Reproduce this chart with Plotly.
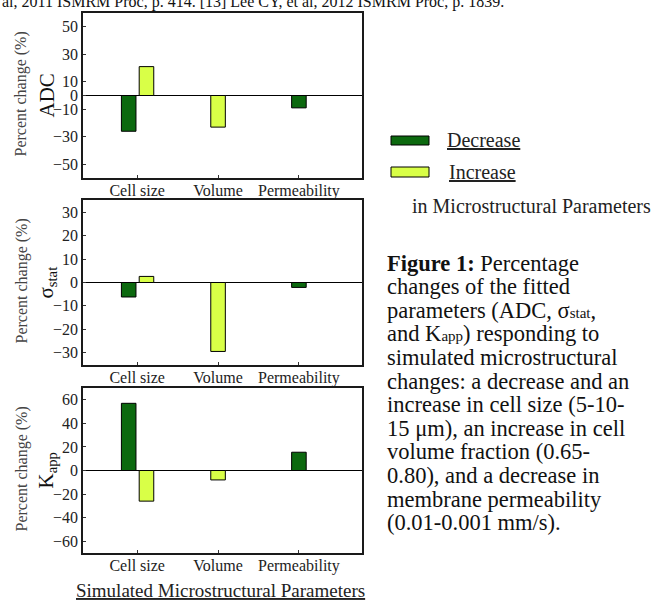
import plotly.graph_objects as go

# ---------------- data ----------------
categories = ["Cell size", "Volume", "Permeability"]

adc_decrease = [-26, None, -9]
adc_increase = [21, -23, None]

sigma_decrease = [-6.2, None, -2.1]
sigma_increase = [2.6, -29.5, None]

kapp_decrease = [57, None, 15.5]
kapp_increase = [-26, -8, None]

adc_ticks = [-50, -30, -10, 0, 10, 30, 50]
sigma_ticks = [-30, -20, -10, 0, 10, 20, 30]
kapp_ticks = [-60, -40, -20, 0, 20, 40, 60]

series_names = ["Decrease", "Increase"]

# ---------------- styling ----------------
W, H = 652, 600
FONT = "Liberation Serif"
DARK = "#0c690f"
LIGHT = "#d9ff47"


def px_x(p):
    return p / W


def px_y(p):
    return 1 - p / H


def note(text, x, y, size, color="#111", xanchor="center", yanchor="middle", angle=0):
    fig.add_annotation(x=px_x(x), y=px_y(y), xref="paper", yref="paper",
                       xanchor=xanchor, yanchor=yanchor, text=text, textangle=angle,
                       showarrow=False, font=dict(family=FONT, size=size, color=color))


fig = go.Figure()

panels = [
    (adc_decrease, adc_increase, adc_ticks, [-60, 60], (13, 178), "ADC"),
    (sigma_decrease, sigma_increase, sigma_ticks, [-35.3, 35.3], (200, 365), "σ<sub>stat</sub>"),
    (kapp_decrease, kapp_increase, kapp_ticks, [-70, 70], (388, 553), "K<sub>app</sub>"),
]

BW = 0.18
for i, (dec, inc, ticks, yr, (top, bot), label) in enumerate(panels):
    n = i + 1
    xa = "x" if n == 1 else f"x{n}"
    ya = "y" if n == 1 else f"y{n}"
    both = [(d is not None and v is not None) for d, v in zip(dec, inc)]
    dec_off = [-BW - 0.015 if b else -BW / 2 for b in both]
    inc_off = [0.025 if b else -BW / 2 for b in both]
    fig.add_trace(go.Bar(x=categories, y=dec, name=series_names[0], offset=dec_off,
                         width=BW, marker=dict(color=DARK, line=dict(color="black", width=1)),
                         xaxis=xa, yaxis=ya, showlegend=False))
    fig.add_trace(go.Bar(x=categories, y=inc, name=series_names[1], offset=inc_off,
                         width=BW, marker=dict(color=LIGHT, line=dict(color="black", width=1)),
                         xaxis=xa, yaxis=ya, showlegend=False))
    axis_common = dict(showline=True, linecolor="#1a1a1a", linewidth=1.5, mirror=True,
                       showgrid=False)
    fig.layout[f"xaxis{'' if n == 1 else n}"] = dict(
        domain=[px_x(83), px_x(362)], anchor=ya, range=[-0.67, 2.78],
        ticks="inside", ticklen=3, tickcolor="#333", ticklabelstandoff=-3,
        tickfont=dict(family=FONT, size=16, color="#222"), **axis_common)
    fig.layout[f"yaxis{'' if n == 1 else n}"] = dict(
        domain=[px_y(bot), px_y(top)], anchor=xa, range=yr,
        tickmode="array", tickvals=ticks, ticks="inside", ticklen=3, tickcolor="#333",
        tickfont=dict(family=FONT, size=16, color="#222"),
        zeroline=True, zerolinecolor="black", zerolinewidth=1.3, **axis_common)
    mid = (top + bot) / 2
    note("Percent change (%)", 21, mid - 1, 16, color="#444", angle=-90)
    note(label, 46, mid, 21, color="#111", angle=-90)

# bottom axis title
note("<u>Simulated Microstructural Parameters</u>", 220, 590, 19, color="#222")

# top clipped reference line
note("al, 2011 ISMRM Proc, p. 414. [13] Lee CY, et al, 2012 ISMRM Proc, p. 1839.",
     0, 2, 16, xanchor="left")

# legend (drawn manually)
legend_items = [(series_names[0], DARK, 136, 145, 445), (series_names[1], LIGHT, 167, 177, 447)]
for name, col, y0, y1, tx in legend_items:
    fig.add_shape(type="rect", xref="paper", yref="paper",
                  x0=px_x(391), x1=px_x(429), y0=px_y(y1), y1=px_y(y0),
                  fillcolor=col, line=dict(color="black", width=1))
    note(f"<u>{name}</u>", tx, (y0 + y1) / 2, 20, color="#222", xanchor="left")
note("in Microstructural Parameters", 410, 206, 20, color="#222", xanchor="left")

# caption
small = "<span style='font-size:15px'>{}</span>"
caption_lines = [
    "<b>Figure 1:</b> Percentage",
    "changes of the fitted",
    "parameters (ADC, σ" + small.format("stat") + ",",
    "and K" + small.format("app") + ") responding to",
    "simulated microstructural",
    "changes: a decrease and an",
    "increase in cell size (5-10-",
    "15 μm), an increase in cell",
    "volume fraction (0.65-",
    "0.80), and a decrease in",
    "membrane permeability",
    "(0.01-0.001 mm/s).",
]
for k, line in enumerate(caption_lines):
    note(line, 385, 263 + 23.6 * k, 22.5, xanchor="left")

fig.update_layout(width=W, height=H, margin=dict(l=0, r=0, t=0, b=0),
                  paper_bgcolor="white", plot_bgcolor="white", barmode="overlay",
                  font=dict(family=FONT))

fig.write_html("out.html", config={"displayModeBar": False},
               post_script="document.body.style.margin='0';")
